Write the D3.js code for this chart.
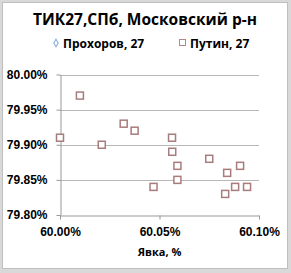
<!DOCTYPE html>
<html>
<head>
<meta charset="utf-8">
<script src="https://cdn.jsdelivr.net/npm/d3@7"></script>
<style>
  body { margin: 0; background: #d9d9d9; }
  svg { display: block; font-family: "Open Sans", sans-serif; }
</style>
</head>
<body>
<svg id="chart" width="291" height="273"></svg>
<script>
const title = "ТИК27,СПб, Московский р-н";
const seriesNames = ["Прохоров, 27", "Путин, 27"];
// turnout (%) and Putin share (%) per precinct
const turnout = [60.000, 60.010, 60.021, 60.032, 60.0375, 60.047, 60.0563, 60.0564, 60.059, 60.059, 60.075, 60.084, 60.0905, 60.083, 60.088, 60.094];
const putin = [79.91, 79.97, 79.90, 79.93, 79.92, 79.84, 79.91, 79.89, 79.87, 79.85, 79.88, 79.86, 79.87, 79.83, 79.84, 79.84];
const xTicks = [60.00, 60.05, 60.10];
const yTicks = [79.80, 79.85, 79.90, 79.95, 80.00];

const svg = d3.select("#chart");
const width = +svg.attr("width");
const height = +svg.attr("height");

svg.append("rect")
  .attr("x", 2.5).attr("y", 2.5)
  .attr("width", width - 6).attr("height", height - 7)
  .attr("fill", "white")
  .attr("stroke", "#bfbfbf");

const x = d3.scaleLinear().domain([60.00, 60.10]).range([60, 259]);
const y = d3.scaleLinear().domain([79.80, 80.00]).range([215, 74.5]);

// grid
svg.append("g")
  .selectAll("line")
  .data(yTicks.slice(1))
  .join("line")
  .attr("x1", x(60.00)).attr("x2", x(60.10))
  .attr("y1", d => Math.round(y(d)) + 0.5).attr("y2", d => Math.round(y(d)) + 0.5)
  .attr("stroke", "#b8b8b8");

const xAxis = d3.axisBottom(x).tickValues(xTicks).tickSize(4).tickSizeOuter(0)
  .tickFormat(d => d.toFixed(2) + "%");
const yAxis = d3.axisLeft(y).tickValues(yTicks).tickSize(4).tickSizeOuter(0)
  .tickFormat(d => d.toFixed(2) + "%");

const gx = svg.append("g")
  .attr("transform", `translate(0, ${Math.round(y(79.80)) + 0.5})`)
  .call(xAxis);
const gy = svg.append("g")
  .attr("transform", `translate(${Math.round(x(60.00)) + 0.5}, 0)`)
  .call(yAxis);

[gx, gy].forEach(g => {
  g.select(".domain").attr("stroke", "#999");
  g.selectAll(".tick line").attr("stroke", "#999");
  g.selectAll(".tick text")
    .attr("fill", "#000")
    .style("font-size", "12px")
    .style("font-weight", "bold");
});
gx.selectAll(".tick text").attr("dy", "1.15em");
gy.selectAll(".tick text").attr("x", -13);

svg.append("text")
  .attr("x", x(60.05)).attr("y", 256)
  .attr("text-anchor", "middle")
  .style("font-size", "11px").style("font-weight", "bold")
  .text("Явка, %");

svg.append("text")
  .attr("x", 145).attr("y", 25)
  .attr("text-anchor", "middle")
  .style("font-size", "15.5px").style("font-weight", "bold")
  .text(title);

// legend
const legend = svg.append("g");
legend.append("path")
  .attr("d", d3.symbol(d3.symbolDiamond, 16)())
  .attr("transform", "translate(56, 43)")
  .attr("fill", "white").attr("stroke", "#8fb4de").attr("stroke-width", 1.2);
legend.append("text")
  .attr("x", 63).attr("y", 47.5)
  .style("font-size", "12px").style("font-weight", "bold")
  .text(seriesNames[0]);
legend.append("rect")
  .attr("x", 179.5).attr("y", 39.5).attr("width", 6).attr("height", 6)
  .attr("fill", "white").attr("stroke", "#b08a8a");
legend.append("text")
  .attr("x", 190).attr("y", 47.5)
  .style("font-size", "12px").style("font-weight", "bold")
  .text(seriesNames[1]);

// points
const pts = turnout.map((t, i) => ({ t, p: putin[i] }));
svg.append("g")
  .selectAll("rect")
  .data(pts)
  .join("rect")
  .attr("x", d => x(d.t) - 3.5)
  .attr("y", d => y(d.p) - 3.5)
  .attr("width", 7).attr("height", 7)
  .attr("fill", "white")
  .attr("stroke", "#a87c7c")
  .attr("stroke-width", 1.5);
</script>
</body>
</html>
